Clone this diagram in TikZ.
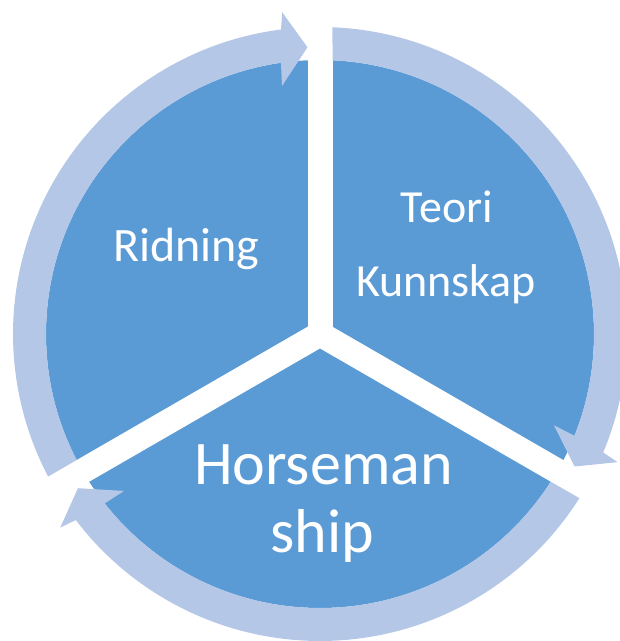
\documentclass[tikz,border=0pt]{standalone}
\usepackage{fontspec}
\setmainfont{Carlito}
\definecolor{pieblue}{RGB}{91,155,213}
\definecolor{ringblue}{RGB}{180,199,231}
\tikzset{
  lbl/.style={text=white, anchor=base, inner sep=0pt},
  band/.style={white, line width=25, line cap=round},
}
% #1 = start divider angle, #2 = end divider angle (clockwise)
\newcommand{\cyclearrow}[2]{%
  \fill[ringblue] ({#1-2.33}:307)
    arc[start angle={#1-2.33}, end angle={#2+7.3}, radius=307]
    -- ({#2+6.7}:324) -- ({#2+2.5}:287) -- ({#2+8.7}:251)
    -- ({#2+8.2}:274)
    arc[start angle={#2+8.2}, end angle={#1-2.62}, radius=274] -- cycle;
}
\begin{document}
\begin{tikzpicture}[x=1pt,y=1pt]
\clip (0,0) rectangle (620,641);
\begin{scope}[shift={(320,307)}]
  \fill[pieblue] (0,0) circle[radius=274];
  \draw[band] (0,0) -- (90:400);
  \draw[band] (0,0) -- (210:400);
  \draw[band] (0,0) -- (-30:400);
  \cyclearrow{210}{90}
  \cyclearrow{90}{-30}
  \cyclearrow{330}{210}
\end{scope}
\node[lbl, font=\fontsize{48}{56}\selectfont] (ridning) at (186.5,379) {Ridning};
\node[lbl, font=\fontsize{46}{54}\selectfont] (teori) at (447,418) {Teori};
\node[lbl, font=\fontsize{46}{54}\selectfont] (kunnskap) at (446,344) {Kunnskap};
\node[lbl, font=\fontsize{62}{70}\selectfont] (horseman) at (323.5,156) {Horseman};
\node[lbl, font=\fontsize{62}{70}\selectfont] (ship) at (322.5,88) {ship};
\end{tikzpicture}
\end{document}
